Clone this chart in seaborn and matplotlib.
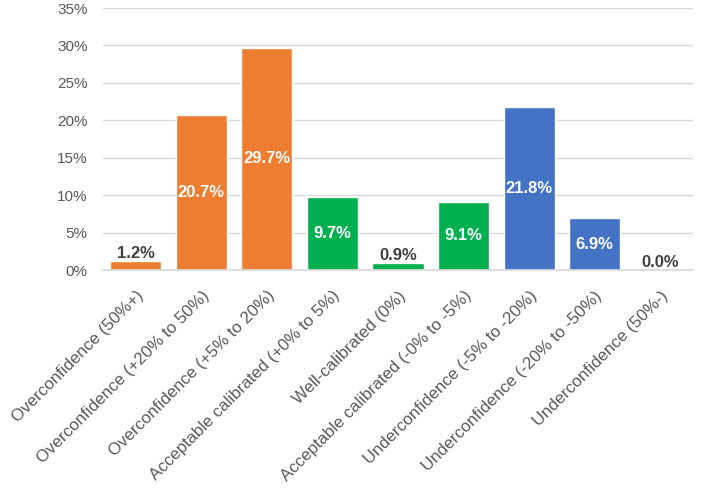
import matplotlib
matplotlib.use("Agg")
import matplotlib.pyplot as plt
import seaborn as sns
import pandas as pd

categories = [
    "Overconfidence (50%+)",
    "Overconfidence (+20% to 50%)",
    "Overconfidence (+5% to 20%)",
    "Acceptable calibrated (+0% to 5%)",
    "Well-calibrated (0%)",
    "Acceptable calibrated (-0% to -5%)",
    "Underconfidence (-5% to -20%)",
    "Underconfidence (-20% to -50%)",
    "Underconfidence (50%-)",
]
values = [1.2, 20.7, 29.7, 9.7, 0.9, 9.1, 21.8, 6.9, 0.0]
bar_colors = ["#ED7D31", "#ED7D31", "#ED7D31", "#00B050", "#00B050",
              "#00B050", "#4472C4", "#4472C4", "#4472C4"]
yticks = [0, 5, 10, 15, 20, 25, 30, 35]

sns.set_theme(style="white")
plt.rcParams['font.family'] = ['Liberation Sans', 'DejaVu Sans']

df = pd.DataFrame({"category": categories, "value": values})

fig = plt.figure(figsize=(7.13, 4.91), dpi=100)
ax = fig.add_axes([0.1445, 0.45, 0.8275, 0.5337])

sns.barplot(data=df, x="category", y="value", hue="category",
            palette=dict(zip(categories, bar_colors)), legend=False,
            width=0.78, saturation=1, ax=ax, zorder=3)

ax.set_ylim(0, 35)
ax.set_yticks(yticks)
ax.set_yticklabels([f"{t}%" for t in yticks], fontsize=11, color="#595959")
ax.set_xlim(-0.5, len(categories) - 0.5)
ax.set_xticks(range(len(categories)))
ax.set_xticklabels(categories, rotation=45, ha="right", rotation_mode="anchor",
                   fontsize=12.2, color="#595959")
ax.tick_params(axis="y", length=0, pad=11)
ax.tick_params(axis="x", length=0, pad=13)
ax.set_xlabel("")
ax.set_ylabel("")
ax.yaxis.grid(True, color="#D9D9D9", linewidth=1, zorder=0)
for s in ["top", "right", "left"]:
    ax.spines[s].set_visible(False)
ax.spines["bottom"].set_color("#D9D9D9")
ax.spines["bottom"].set_zorder(4)

for i, v in enumerate(values):
    if v >= 3:
        ax.text(i, v / 2, f"{v:.1f}%", ha="center", va="center",
                color="white", fontsize=12, fontweight="bold", zorder=5)
    else:
        ax.text(i, v + 0.05, f"{v:.1f}%", ha="center", va="bottom",
                color="#404040", fontsize=12, fontweight="bold", zorder=5)

fig.savefig("out.png", dpi=100)
